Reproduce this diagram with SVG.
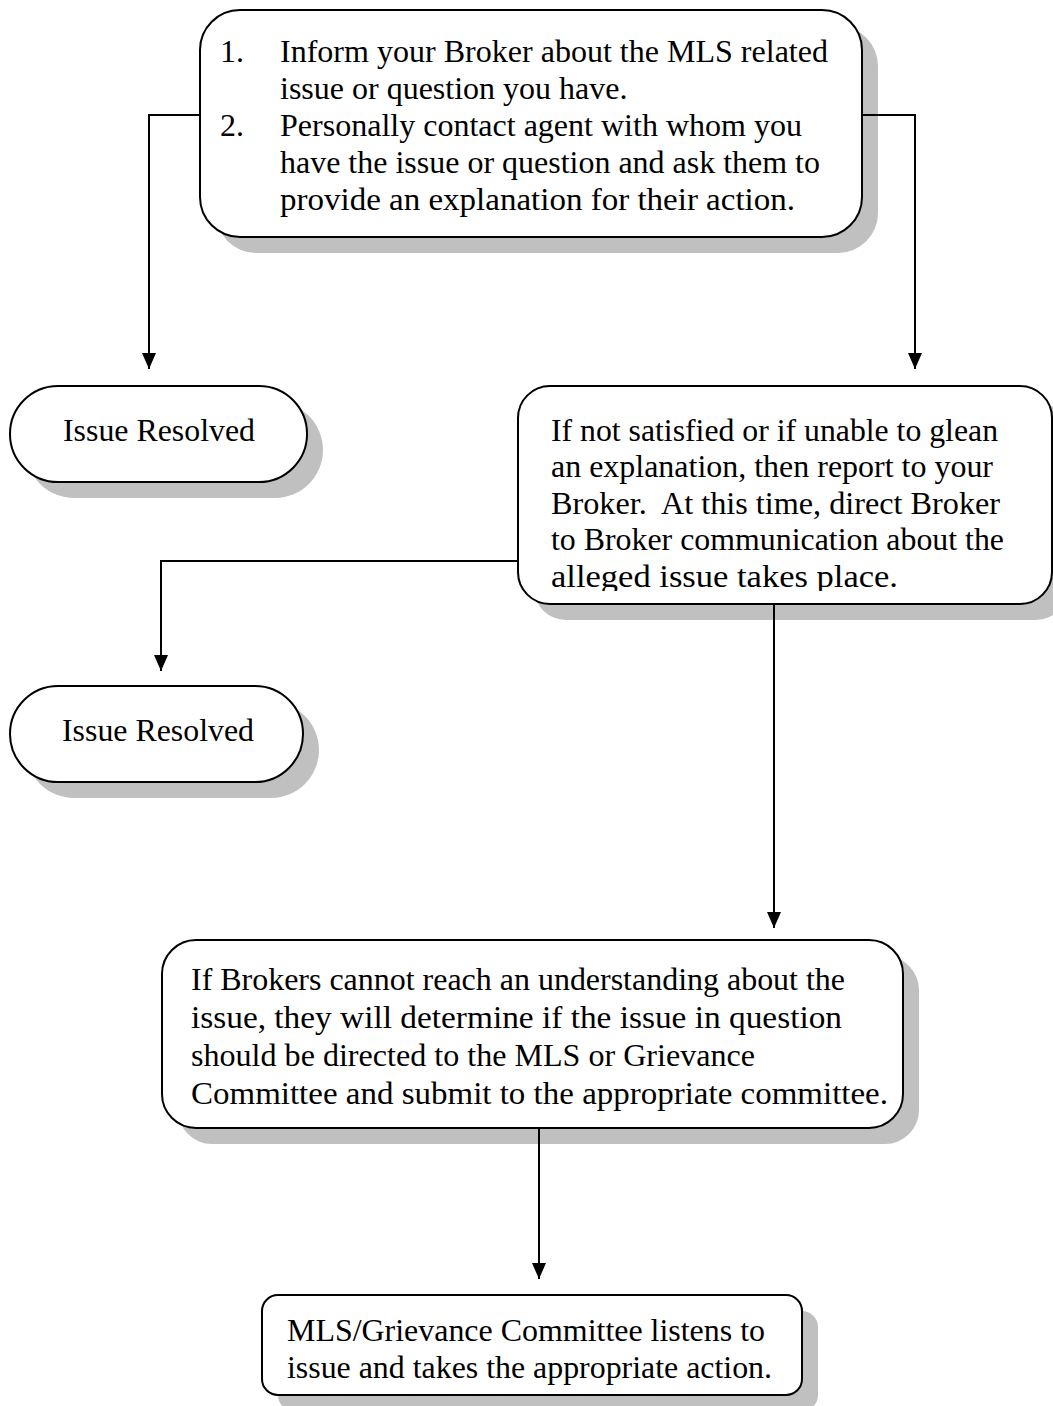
<svg xmlns="http://www.w3.org/2000/svg" width="1053" height="1406" viewBox="0 0 1053 1406">
<style>
.shadow{fill:#c0c0c0;stroke:none}
.box{fill:#fff;stroke:#000;stroke-width:2}
.t{font-family:"Liberation Serif","Times New Roman",serif;font-size:32px;fill:#000}
.conn{fill:none;stroke:#000;stroke-width:2}
</style>
<defs>
<marker id="arrow" viewBox="0 0 16 14" refX="16" refY="7" markerWidth="16" markerHeight="14" markerUnits="userSpaceOnUse" orient="auto">
<path d="M0,0 L16,7 L0,14 z" fill="#000"/>
</marker>
<clipPath id="clip2"><rect x="518" y="386" width="534" height="205"/></clipPath>
</defs>
<g id="step1">
<rect class="shadow" x="216" y="26" width="662" height="227" rx="40"/>
<rect class="box" x="200" y="10" width="662" height="227" rx="40"/>
<text class="t" x="220" y="62">1.</text>
<text class="t" x="280" y="62" textLength="548" lengthAdjust="spacingAndGlyphs">Inform your Broker about the MLS related</text>
<text class="t" x="280" y="99">issue or question you have.</text>
<text class="t" x="220" y="136">2.</text>
<text class="t" x="280" y="136" textLength="522" lengthAdjust="spacingAndGlyphs">Personally contact agent with whom you</text>
<text class="t" x="280" y="173" textLength="540" lengthAdjust="spacingAndGlyphs">have the issue or question and ask them to</text>
<text class="t" x="280" y="210" textLength="515" lengthAdjust="spacingAndGlyphs">provide an explanation for their action.</text>
</g>
<g id="resolved1">
<rect class="shadow" x="26" y="402" width="297" height="96" rx="48"/>
<rect class="box" x="10" y="386" width="297" height="96" rx="48"/>
<text class="t" x="63" y="441" textLength="192" lengthAdjust="spacingAndGlyphs">Issue Resolved</text>
</g>
<g id="step2">
<rect class="shadow" x="534" y="402" width="534" height="218" rx="32"/>
<rect class="box" x="518" y="386" width="534" height="218" rx="32"/>
<g clip-path="url(#clip2)">
<text class="t" x="551" y="441" textLength="447" lengthAdjust="spacingAndGlyphs">If not satisfied or if unable to glean</text>
<text class="t" x="551" y="477" textLength="442" lengthAdjust="spacingAndGlyphs">an explanation, then report to your</text>
<text class="t" x="551" y="514" textLength="449" lengthAdjust="spacingAndGlyphs" xml:space="preserve">Broker.  At this time, direct Broker</text>
<text class="t" x="551" y="550" textLength="453" lengthAdjust="spacingAndGlyphs">to Broker communication about the</text>
<text class="t" x="551" y="587" textLength="347" lengthAdjust="spacingAndGlyphs">alleged issue takes place.</text>
</g>
</g>
<g id="resolved2">
<rect class="shadow" x="26" y="702" width="293" height="96" rx="48"/>
<rect class="box" x="10" y="686" width="293" height="96" rx="48"/>
<text class="t" x="62" y="741" textLength="192" lengthAdjust="spacingAndGlyphs">Issue Resolved</text>
</g>
<g id="step3">
<rect class="shadow" x="178" y="956" width="741" height="188" rx="34"/>
<rect class="box" x="162" y="940" width="741" height="188" rx="34"/>
<text class="t" x="191" y="990" textLength="654" lengthAdjust="spacingAndGlyphs">If Brokers cannot reach an understanding about the</text>
<text class="t" x="191" y="1028" textLength="651" lengthAdjust="spacingAndGlyphs">issue, they will determine if the issue in question</text>
<text class="t" x="191" y="1066" textLength="564" lengthAdjust="spacingAndGlyphs">should be directed to the MLS or Grievance</text>
<text class="t" x="191" y="1104" textLength="697" lengthAdjust="spacingAndGlyphs">Committee and submit to the appropriate committee.</text>
</g>
<g id="step4">
<rect class="shadow" x="278" y="1311" width="540" height="100" rx="16"/>
<rect class="box" x="262" y="1295" width="540" height="100" rx="16"/>
<text class="t" x="287" y="1341" textLength="478" lengthAdjust="spacingAndGlyphs">MLS/Grievance Committee listens to</text>
<text class="t" x="287" y="1378" textLength="485" lengthAdjust="spacingAndGlyphs">issue and takes the appropriate action.</text>
</g>
<g id="connectors">
<path class="conn" d="M200,115 H149 V369" marker-end="url(#arrow)"/>
<path class="conn" d="M862,115 H915 V369" marker-end="url(#arrow)"/>
<path class="conn" d="M518,561 H161 V671" marker-end="url(#arrow)"/>
<path class="conn" d="M774,604 V928" marker-end="url(#arrow)"/>
<path class="conn" d="M539,1128 V1279" marker-end="url(#arrow)"/>
</g>
</svg>
